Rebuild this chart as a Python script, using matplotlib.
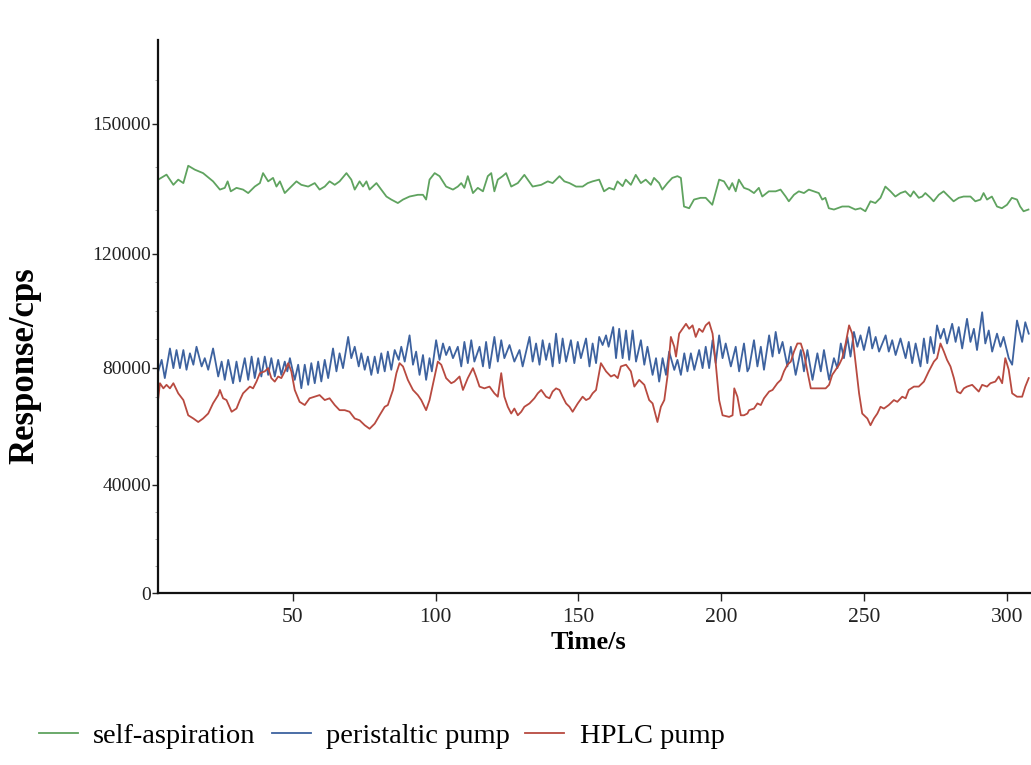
import matplotlib.pyplot as plt
from matplotlib.ticker import FixedLocator
import numpy as np

# tick labels as printed, and how far above the x axis (px) each sits in the source figure
y_ticks = [0, 40000, 80000, 120000, 150000]
y_tick_px = [0, 108, 225, 339, 469]
x_ticks = [50, 100, 150, 200, 250, 300]

series_names = ["self-aspiration", "peristaltic pump", "HPLC pump"]

green_t = [2.9, 5.8, 8.2, 9.9, 11.7, 13.4, 15.7, 18.6, 22.1, 24.5, 26.2, 27.2, 28.3, 30.3, 32.6,
           34.4, 36.7, 38.5, 39.6, 41.4, 43.1, 44.3, 45.5, 47.2, 49.5, 51.3, 53.0, 55.4, 57.7,
           59.4, 61.2, 62.9, 64.7, 66.4, 68.8, 70.5, 71.7, 73.4, 74.6, 75.8, 76.9, 79.3, 81.0,
           82.8, 84.5, 86.8, 88.6, 90.9, 93.8, 95.6, 96.7, 97.9, 99.7, 101.4, 103.7, 106.1,
           107.8, 109.0, 110.1, 111.3, 113.1, 114.8, 116.6, 118.3, 119.5, 120.6, 121.8, 123.5,
           124.7, 126.5, 128.8, 131.1, 134.0, 137.0, 139.3, 141.0, 143.4, 145.1, 146.9, 149.2,
           151.5, 153.3, 155.0, 157.3, 159.0, 160.8, 162.5, 163.7, 165.5, 166.6, 168.4, 170.1,
           171.9, 173.6, 175.4, 176.5, 178.3, 179.4, 181.2, 182.9, 184.7, 185.9, 187.0, 188.8,
           190.5, 192.8, 194.6, 196.9, 199.3, 201.0, 202.8, 203.9, 205.1, 206.2, 208.0, 209.7,
           211.5, 213.2, 214.4, 216.7, 219.1, 220.8, 222.6, 223.7, 225.5, 227.2, 229.0, 230.7,
           232.5, 234.2, 235.4, 236.5, 237.7, 239.5, 242.4, 244.7, 247.0, 248.8, 250.5, 252.3,
           254.0, 255.8, 257.5, 259.3, 261.0, 262.8, 264.5, 266.3, 267.4, 269.2, 270.4, 271.5,
           273.3, 274.4, 276.2, 277.9, 279.7, 281.4, 283.2, 284.9, 287.3, 289.0, 290.8, 291.9,
           293.1, 294.8, 296.6, 298.3, 300.1, 301.8, 303.6, 304.7, 305.9, 307.6]
green_v = [137100, 138250, 135900, 137100, 136300, 140300, 139400, 138600, 136700, 134800, 135200,
           136700, 134400, 135200, 134800, 134000, 135500, 136300, 138600, 136700, 137500, 135500,
           136700, 134000, 135500, 136700, 135900, 135500, 136300, 134800, 135500, 136700, 135900,
           136700, 138600, 137100, 134800, 136700, 135500, 136700, 134800, 136300, 134800, 133200,
           132500, 131700, 132500, 133200, 133600, 133600, 132500, 137100, 138600, 137900, 135500,
           134800, 135500, 136300, 135200, 137900, 134000, 135200, 134400, 137900, 138600, 134400,
           137100, 137900, 138600, 135500, 136300, 138200, 135500, 135900, 136700, 136300, 137900,
           136700, 136300, 135500, 135500, 136300, 136700, 137100, 134400, 135200, 134800, 136700,
           135600, 137100, 135900, 138200, 136300, 137100, 135900, 137500, 136300, 134800, 136300,
           137500, 137900, 137500, 130900, 130500, 132500, 132900, 132900, 131300, 137100, 136700,
           134800, 136300, 134400, 137100, 135200, 134800, 134000, 135200, 133200, 134400, 134400,
           134800, 133200, 132100, 133600, 134400, 134000, 134800, 134400, 134000, 132500, 132900,
           130500, 130200, 130900, 130900, 130200, 130500, 129800, 132100, 131700, 132900, 135500,
           134400, 133200, 134000, 134400, 133200, 134400, 132900, 133200, 134000, 132900, 132100,
           133600, 134400, 133200, 132100, 132900, 133200, 133200, 132100, 132500, 134000, 132500,
           133200, 130900, 130500, 131300, 132900, 132500, 130900, 129800, 130200]

blue_t = [2.9, 4.1, 5.2, 7.0, 8.2, 9.3, 10.5, 11.7, 12.8, 14.0, 15.2, 16.3, 18.1, 19.2, 20.4, 22.1,
          23.9, 25.1, 26.2, 27.4, 29.1, 30.3, 31.5, 33.2, 34.4, 35.6, 36.7, 37.9, 39.0, 40.2, 41.4,
          42.5, 43.7, 44.9, 46.0, 47.2, 48.1, 49.0, 50.7, 51.9, 53.0, 54.2, 55.4, 56.5, 57.7, 58.9,
          60.0, 61.2, 62.4, 64.1, 65.3, 66.4, 67.6, 69.4, 70.5, 71.7, 73.1, 74.0, 75.2, 76.3, 77.5,
          78.7, 79.8, 81.0, 82.2, 83.3, 84.5, 85.7, 87.1, 88.0, 89.2, 90.9, 92.1, 93.2, 94.4, 95.6,
          96.7, 97.9, 98.7, 100.2, 101.4, 102.6, 103.7, 104.9, 106.1, 107.8, 109.0, 110.1, 111.3,
          112.5, 113.6, 115.4, 116.6, 117.7, 118.9, 120.6, 121.8, 123.0, 124.1, 125.9, 127.6,
          129.4, 130.5, 132.9, 134.0, 135.2, 136.4, 137.5, 138.7, 139.9, 141.0, 142.2, 143.4,
          144.5, 145.7, 147.4, 148.6, 149.8, 150.9, 152.7, 153.9, 155.0, 156.2, 157.3, 158.5,
          159.7, 160.6, 162.2, 163.2, 164.3, 165.5, 166.7, 167.8, 169.0, 170.2, 171.9, 173.1,
          174.2, 176.0, 177.2, 178.3, 179.5, 180.7, 181.8, 183.6, 184.7, 185.9, 187.1, 188.2,
          189.4, 190.6, 192.3, 193.5, 194.6, 195.8, 197.0, 198.1, 199.3, 200.5, 201.6, 203.4,
          205.1, 206.3, 208.0, 209.2, 209.8, 211.5, 212.7, 213.9, 215.0, 216.8, 218.0, 219.1,
          220.3, 221.5, 223.2, 224.4, 226.1, 227.9, 229.0, 230.2, 232.0, 233.7, 234.9, 236.0,
          237.8, 239.5, 240.7, 241.9, 243.0, 244.2, 245.3, 246.5, 247.7, 248.8, 250.0, 251.8,
          252.9, 254.1, 255.3, 257.6, 258.7, 259.9, 261.1, 262.8, 264.6, 265.7, 266.9, 268.1,
          269.8, 271.0, 272.2, 273.3, 274.5, 275.6, 276.8, 278.0, 279.1, 280.9, 282.1, 283.2,
          284.4, 286.1, 287.3, 288.5, 289.6, 291.4, 292.5, 293.7, 294.9, 296.6, 297.8, 298.9,
          300.7, 301.9, 303.6, 305.4, 306.5, 307.7]
blue_v = [78800, 82800, 76500, 86800, 79900, 86250, 79900, 86250, 79350, 85100, 81100, 87400, 80500,
          83400, 79350, 86800, 77050, 82200, 75900, 82800, 74750, 82200, 75350, 83400, 75900, 83950,
          76500, 83400, 77050, 83950, 77600, 83400, 77050, 82800, 77600, 82200, 78800, 83400, 75900,
          81100, 73050, 81100, 74200, 81650, 74750, 82200, 75350, 82800, 76500, 86800, 78800, 85100,
          79900, 90850, 83400, 87400, 80500, 85100, 79350, 83950, 77600, 83950, 78200, 85100, 78800,
          85700, 79350, 86250, 82800, 87400, 82200, 91400, 81100, 85700, 77600, 84500, 75900, 83400,
          78800, 89700, 82800, 88550, 84500, 87400, 83400, 87400, 80500, 89100, 81650, 89700, 82200,
          87400, 80500, 89100, 79900, 90850, 82200, 89700, 83400, 88000, 82200, 86250, 80500, 90850,
          82200, 88550, 81100, 89700, 82800, 88550, 80500, 92000, 81650, 90300, 82200, 89700, 81650,
          89100, 83400, 90300, 80500, 88550, 81650, 90850, 88000, 91400, 87400, 94300, 83400, 93700,
          83400, 93100, 82800, 93100, 82200, 89700, 81100, 87400, 77600, 83400, 75300, 83400, 77600,
          85700, 79300, 82800, 77600, 85100, 78800, 85100, 79300, 86250, 79900, 87400, 79900, 89700,
          81650, 91400, 83400, 88550, 80500, 87400, 78800, 88550, 78800, 79900, 89700, 80500, 87400,
          79350, 91400, 83950, 92600, 85100, 89100, 80500, 87400, 77600, 86250, 78800, 86250, 75900,
          85100, 78800, 86250, 75900, 83400, 79900, 88550, 83400, 90850, 83950, 92600, 87400, 91400,
          86250, 94300, 86800, 90850, 85700, 91400, 85700, 89700, 84500, 90300, 83400, 89100, 81650,
          88550, 80500, 90300, 81650, 90850, 85100, 94900, 90300, 93700, 88550, 95450, 89100, 94300,
          86800, 97200, 89100, 93700, 86250, 99500, 88550, 93100, 85700, 92000, 87400, 90850, 83400,
          81100, 96600, 89100, 96000, 92000]

red_t = [2.9, 3.5, 4.7, 5.8, 7.0, 8.2, 9.9, 11.7, 13.4, 15.2, 16.9, 18.6, 20.4, 22.1, 23.9, 24.5,
         25.6, 26.8, 28.6, 30.3, 31.5, 32.6, 33.8, 35.0, 36.1, 37.3, 38.5, 40.2, 41.4, 42.5, 43.7,
         44.9, 46.0, 47.2, 48.4, 49.5, 50.7, 52.4, 54.2, 55.9, 57.7, 59.4, 61.2, 62.9, 64.7, 66.4,
         68.2, 69.9, 71.7, 73.4, 75.2, 76.9, 78.7, 80.4, 82.2, 83.3, 85.1, 86.3, 87.4, 88.6, 90.3,
         92.1, 93.8, 95.0, 96.7, 97.9, 99.7, 100.8, 102.0, 103.7, 105.5, 106.6, 108.4, 109.6,
         111.3, 113.1, 114.2, 115.4, 117.1, 118.9, 120.6, 121.8, 123.0, 124.1, 125.3, 126.5,
         127.6, 128.8, 130.0, 131.1, 132.9, 134.6, 135.8, 137.0, 138.7, 139.9, 141.0, 142.2,
         143.4, 144.5, 145.7, 146.9, 148.0, 149.8, 151.5, 152.7, 153.9, 155.0, 156.2, 157.9,
         159.7, 161.4, 162.6, 163.8, 164.9, 166.7, 168.4, 169.6, 171.3, 173.1, 174.8, 176.0,
         177.7, 178.9, 180.1, 181.2, 182.4, 183.6, 184.2, 185.3, 186.5, 187.7, 188.8, 190.0,
         191.1, 192.3, 193.5, 194.6, 195.8, 197.0, 198.1, 199.3, 200.5, 202.8, 204.0, 204.6,
         205.7, 206.9, 208.0, 209.2, 209.8, 211.5, 212.7, 213.9, 215.0, 216.8, 218.0, 219.7,
         220.9, 222.0, 223.2, 224.4, 225.5, 226.7, 227.9, 229.0, 230.2, 231.4, 233.1, 234.9,
         236.6, 237.8, 238.9, 240.1, 241.3, 242.4, 243.6, 244.8, 245.9, 247.1, 248.3, 249.4,
         251.2, 252.3, 253.5, 254.7, 255.8, 257.0, 258.7, 260.5, 261.7, 263.4, 264.6, 265.7,
         267.5, 269.2, 271.0, 272.7, 274.5, 275.6, 276.8, 278.0, 279.1, 280.3, 281.5, 282.6,
         283.8, 285.0, 286.1, 287.9, 289.1, 290.2, 291.4, 293.1, 294.3, 296.0, 297.2, 298.4,
         299.5, 300.7, 301.9, 303.6, 305.4, 306.5, 307.7]
red_v = [69600, 74750, 73000, 74200, 73000, 74750, 71300, 69000, 63800, 62700, 61500, 62700, 64400,
         67900, 70700, 72450, 69600, 69000, 65000, 66100, 69000, 71300, 72450, 73600, 73000, 75300,
         78200, 78800, 79900, 76500, 75300, 77050, 76500, 78800, 81650, 78800, 72450, 68400, 67300,
         69600, 70150, 70700, 69000, 69600, 67300, 65550, 65550, 65000, 62700, 62100, 60400, 59200,
         60950, 63800, 66700, 67300, 72450, 78200, 81650, 80500, 75900, 72450, 70700, 69000, 65550,
         69000, 77050, 82200, 81100, 76500, 74750, 75300, 77050, 72450, 76500, 79900, 77050, 73600,
         73000, 73600, 71300, 70150, 78200, 70150, 66700, 64400, 66100, 63800, 65000, 66700, 67850,
         69600, 71300, 72450, 70150, 69600, 71900, 73000, 72450, 70150, 67850, 66700, 65000, 67850,
         70150, 69000, 69600, 71300, 72450, 81650, 78800, 77050, 77600, 76500, 80500, 81100, 78800,
         73600, 75900, 74200, 69000, 67850, 61500, 66700, 69000, 77050, 90850, 87400, 83950, 92000,
         93700, 95450, 93700, 94900, 90850, 93700, 92600, 94900, 96000, 92000, 81650, 69000, 63800,
         63250, 63800, 73000, 70150, 63800, 63800, 64400, 65550, 66100, 67850, 67300, 69600, 71900,
         72450, 74750, 75900, 78800, 81100, 82200, 85700, 88550, 88550, 85100, 78800, 73000, 73000,
         73000, 73000, 74200, 77600, 79350, 81100, 83400, 88550, 94900, 92000, 81650, 71300, 64400,
         62700, 60400, 62700, 64400, 66700, 66100, 67300, 69000, 68400, 70150, 69600, 72450, 73600,
         73600, 75300, 78800, 82200, 83400, 88550, 85700, 82800, 80500, 76500, 71900, 71300, 73000,
         73600, 74200, 73000, 71900, 74200, 73600, 74750, 75300, 77050, 74750, 83400, 79350, 71300,
         70150, 70150, 73600, 76500]

colors = ["#5fa35f", "#3d629f", "#b84a40"]

# the printed axis is not evenly spaced: map values piecewise onto it
scale_v = [-100000] + y_ticks + [300000]
scale_px = [-270] + y_tick_px + [1119]


def forward(v):
    return np.interp(v, scale_v, scale_px)


def inverse(p):
    return np.interp(p, scale_px, scale_v)


plt.rcParams["font.family"] = ["Liberation Serif", "DejaVu Serif"]

fig = plt.figure(figsize=(10.31, 7.65), dpi=100)
ax = fig.add_axes([0.1532, 0.2248, 0.8468, 0.7235])

for t, v, c, name in zip([green_t, blue_t, red_t], [green_v, blue_v, red_v], colors, series_names):
    ax.plot(t, v, color=c, lw=1.3, label=name)

ax.set_yscale("function", functions=(forward, inverse))
ax.set_xlim(2.8, 308.5)
ax.set_ylim(0, 169400)
ax.yaxis.set_major_locator(FixedLocator(y_ticks))
ax.yaxis.set_minor_locator(FixedLocator(np.arange(10000, 170000, 10000)))
ax.set_yticklabels([str(v) for v in y_ticks])
ax.set_xticks(x_ticks)
ax.set_xticklabels([str(v) for v in x_ticks])

for s in ["top", "right"]:
    ax.spines[s].set_visible(False)
for s in ["left", "bottom"]:
    ax.spines[s].set_linewidth(1.6)
    ax.spines[s].set_color("#111111")

ax.tick_params(axis="y", which="major", length=4, width=1, pad=1, labelsize=14, colors="#222222")
ax.tick_params(axis="y", which="minor", length=2, width=0.6, colors="#999999")
ax.tick_params(axis="x", which="major", length=6, width=1, pad=5, labelsize=15.5, colors="#222222")

ax.set_ylabel("Response/cps", fontsize=25, fontweight="bold", va="center")
ax.yaxis.set_label_coords(-0.152, 0.41)
ax.set_xlabel("Time/s", fontsize=19, fontweight="bold", va="center")
ax.xaxis.set_label_coords(0.4926, -0.089)

fig.legend(loc="center left", bbox_to_anchor=(0.0378, 29 / 765), ncol=3, frameon=False,
           borderpad=0, borderaxespad=0, fontsize=20.5, handlelength=1.37,
           handletextpad=0.53, columnspacing=0.56)

fig.savefig("out.png", dpi=100)
